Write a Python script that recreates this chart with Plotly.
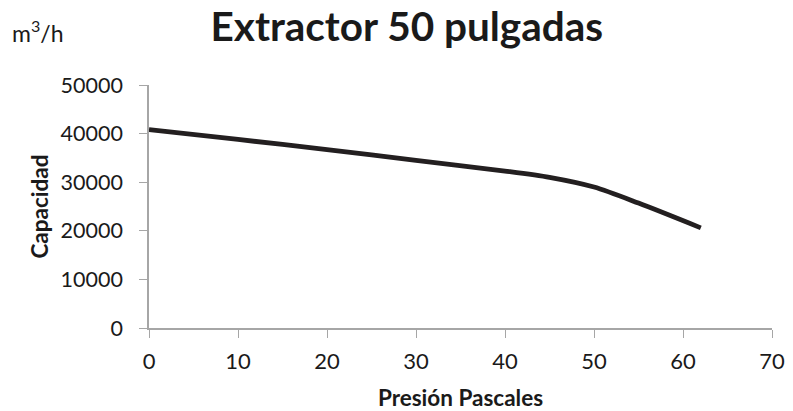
import plotly.graph_objects as go

# Fan performance curve: pressure (Pa) vs. airflow capacity (m³/h)
presion = [0, 10, 20, 30, 40, 45, 50, 55, 62]
capacidad = [40800, 38800, 36700, 34500, 32300, 31000, 29000, 25700, 20600]

x_ticks = [0, 10, 20, 30, 40, 50, 60, 70]
y_ticks = [0, 10000, 20000, 30000, 40000, 50000]
y_tick_labels = ["0", "10000", "20000", "30000", "40000", "50000"]

FONT = "Lato"
AXIS_COLOR = "#A6A6A6"
TEXT_COLOR = "#1A1A1A"

fig = go.Figure(
    go.Scatter(
        x=presion,
        y=capacidad,
        mode="lines",
        line=dict(color="#231F20", width=4.8, shape="spline", smoothing=0.8),
        hoverinfo="x+y",
    )
)

fig.update_layout(
    width=793,
    height=411,
    margin=dict(l=149, r=21, t=85, b=83, autoexpand=False),
    paper_bgcolor="white",
    plot_bgcolor="white",
    showlegend=False,
    font=dict(family=FONT, color=TEXT_COLOR),
    title=dict(
        text="<b>Extractor 50 pulgadas</b>",
        xref="container",
        yref="container",
        x=0.513,
        xanchor="center",
        y=0.934,
        yanchor="middle",
        font=dict(size=40.5, family=FONT, color=TEXT_COLOR),
    ),
    annotations=[
        dict(
            text="m<sup>3</sup>/h",
            xref="paper",
            yref="paper",
            x=-0.223,
            y=1.222,
            xanchor="left",
            yanchor="middle",
            showarrow=False,
            font=dict(size=23, family=FONT, color=TEXT_COLOR),
        )
    ],
)

fig.update_xaxes(
    range=[0, 70],
    tickvals=x_ticks,
    ticks="outside",
    ticklen=8,
    tickcolor=AXIS_COLOR,
    ticklabelstandoff=5,
    showline=True,
    linecolor=AXIS_COLOR,
    linewidth=1.5,
    showgrid=False,
    zeroline=False,
    automargin=False,
    tickfont=dict(size=22, family=FONT, color=TEXT_COLOR),
    title=dict(
        text="<b>Presión Pascales</b>",
        font=dict(size=22.5, family=FONT, color=TEXT_COLOR),
        standoff=18,
    ),
)

fig.update_yaxes(
    range=[0, 50000],
    tickvals=y_ticks,
    ticktext=y_tick_labels,
    ticks="outside",
    ticklen=8,
    tickcolor=AXIS_COLOR,
    ticklabelstandoff=12,
    showline=True,
    linecolor=AXIS_COLOR,
    linewidth=1.5,
    showgrid=False,
    zeroline=False,
    automargin=False,
    tickfont=dict(size=21.5, family=FONT, color=TEXT_COLOR),
    title=dict(
        text="<b>Capacidad</b>",
        font=dict(size=22.5, family=FONT, color=TEXT_COLOR),
        standoff=6,
    ),
)

fig.write_html("out.html")
